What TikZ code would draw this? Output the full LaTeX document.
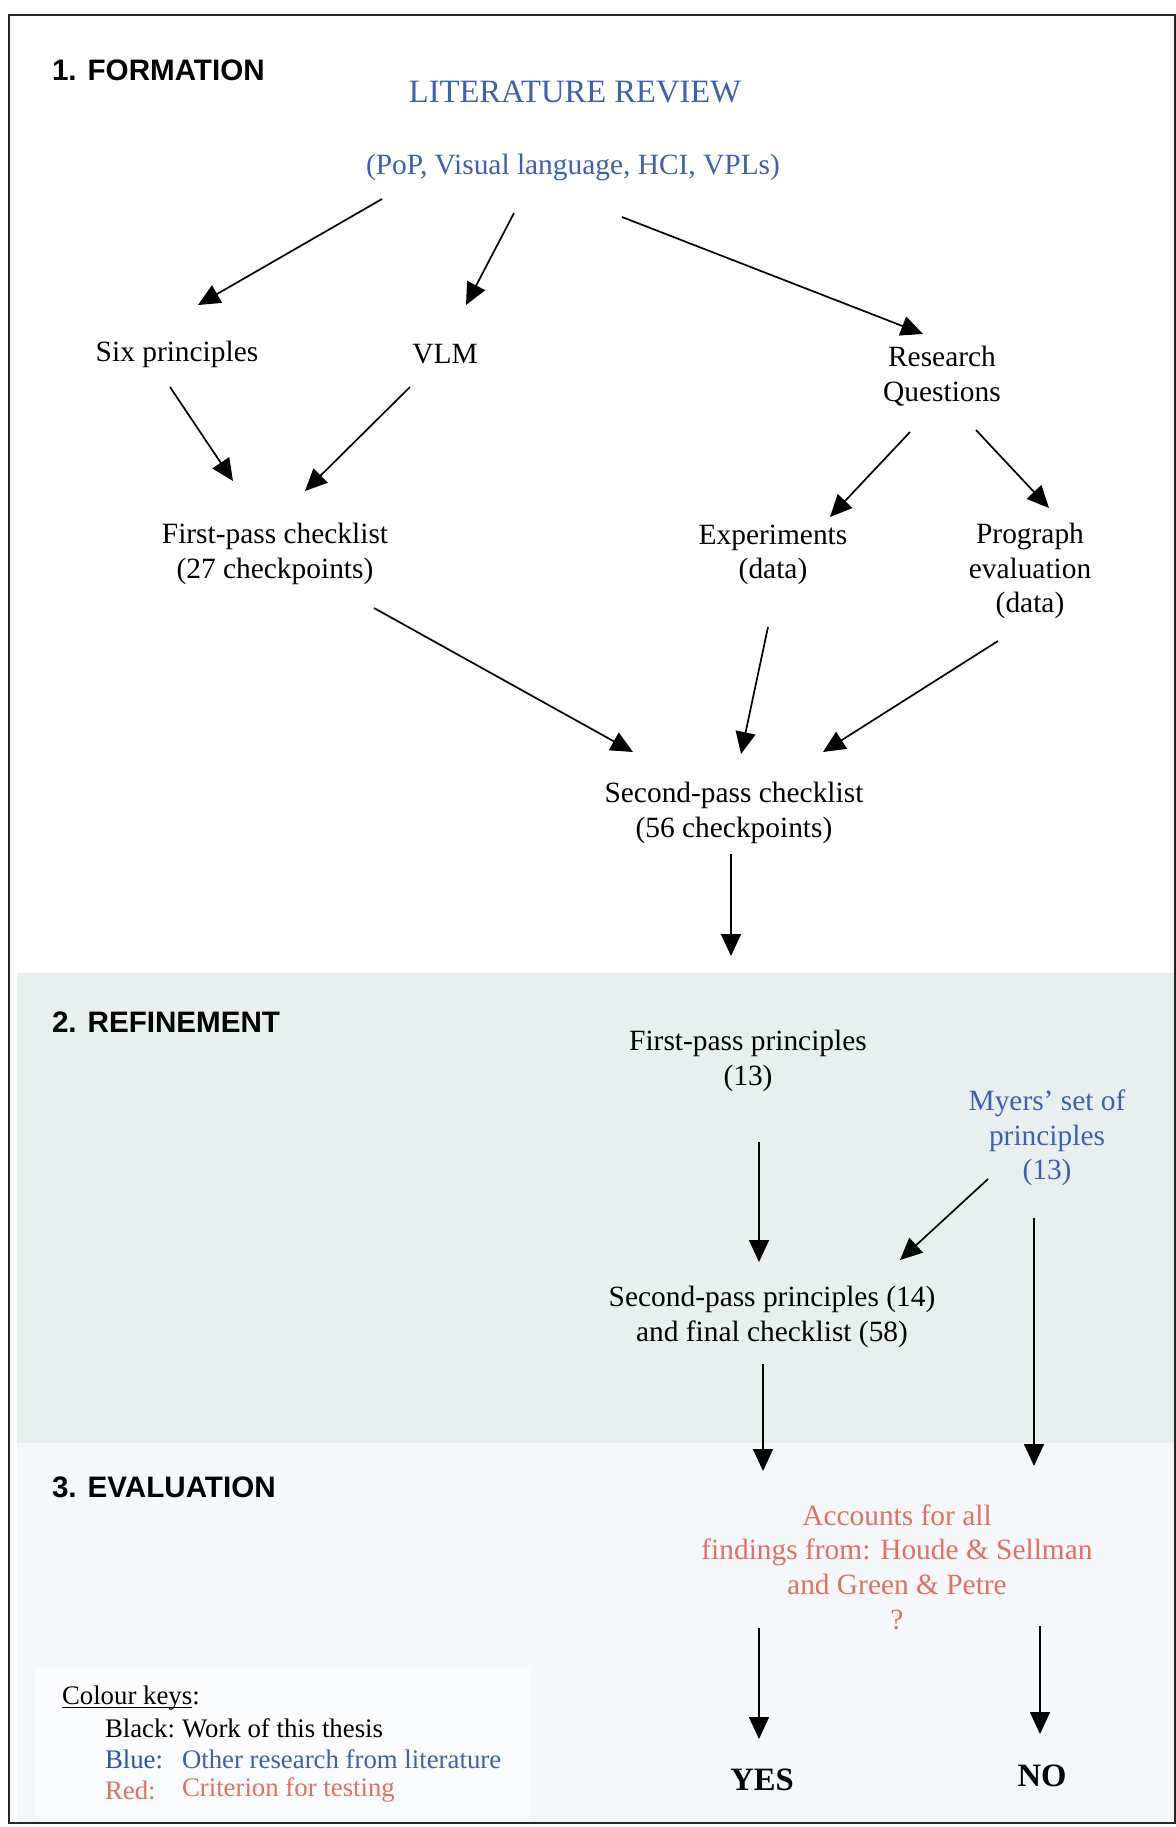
\documentclass[tikz,border=0pt]{standalone}
\usepackage{fontspec}
\setmainfont{Liberation Serif}
\newfontfamily\headfont{Liberation Sans}
\usetikzlibrary{arrows.meta,calc}
\definecolor{litblue}{RGB}{62,96,176}
\definecolor{keyblue}{RGB}{40,80,190}
\definecolor{critred}{RGB}{226,112,96}
\definecolor{refineband}{RGB}{232,239,239}
\definecolor{evalband}{RGB}{244,248,250}
\definecolor{keybox}{RGB}{250,252,253}
% underline that sits just under the baseline
\newcommand{\lowrule}[1]{{\setbox0\hbox{#1}\rlap{\rule[-2pt]{\wd0}{0.6pt}}\box0}}
\begin{document}
\begin{tikzpicture}[x=0.5pt,y=-0.5pt,
  every node/.style={inner sep=0pt, outer sep=0pt},
  txt/.style={font=\fontsize{14.7}{17.3}\selectfont, align=center},
  lit/.style={txt, text=litblue},
  crit/.style={txt, text=critred},
  phase/.style={anchor=west, font=\headfont\bfseries\fontsize{14.8}{17}\selectfont},
  answer/.style={font=\bfseries\fontsize{16.3}{18}\selectfont},
  keytxt/.style={anchor=west, font=\fontsize{13.4}{15}\selectfont},
  arr/.style={line width=0.85pt, -{Triangle[length=11pt,width=10pt]}}
]
% page, phase bands and frame
\useasboundingbox (0,0) rectangle (1176,1827);
\fill[white] (0,0) rectangle (1176,1827);
\fill[refineband] (17,973) rectangle (1176,1443);
\fill[evalband] (17,1443) rectangle (1176,1823);
\fill[keybox] (35,1668) rectangle (530,1820);
\draw[line width=0.8pt, black!85] (9,15) rectangle (1175,1823);

% phase headings
\node[phase] (h1) at (52,70) {1. FORMATION};
\node[phase] (h2) at (52,1022) {2. REFINEMENT};
\node[phase] (h3) at (52,1487) {3. EVALUATION};

% 1. formation
\node[lit, font=\fontsize{16.3}{19}\selectfont] (litrev) at (575,92) {LITERATURE REVIEW};
\node[lit] (litsub) at (573,167) {(PoP, Visual language, HCI, VPLs)};
\node[txt] (six) at (177,354) {Six principles};
\node[txt] (vlm) at (445,354) {VLM};
\node[txt] (rq) at (942,376) {Research\\Questions};
\node[txt] (fpc) at (275,554) {First-pass checklist\\(27 checkpoints)};
\node[txt] (exp) at (773,555) {Experiments\\(data)};
\node[txt] (prog) at (1030,571) {Prograph\\evaluation\\(data)};
\node[txt] (spc) at (734,813) {Second-pass checklist\\(56 checkpoints)};
\coordinate (torefine) at (731,956);

% 2. refinement
\node[txt] (fpp) at (748,1061) {First-pass principles\\(13)};
\node[lit] (myers) at (1047,1138) {Myers’ set of\\principles\\(13)};
\node[txt] (spp) at (772,1317) {Second-pass principles (14)\\and final checklist (58)};

% 3. evaluation
\node[crit] (acc) at (897,1567) {Accounts for all\\findings from: Houde \& Sellman\\and Green \& Petre\\?};
\node[answer] (yes) at (762,1780) {YES};
\node[answer] (no) at (1042,1776) {NO};

% colour key
\node[keytxt] (keyhead) at (62,1698) {\lowrule{Colour keys}:};
\node[keytxt] (kblack) at (105,1728) {Black:};
\node[keytxt] (kblackt) at (182,1728) {Work of this thesis};
\node[keytxt, text=keyblue] (kblue) at (105,1759) {Blue:};
\node[keytxt, text=litblue] (kbluet) at (182,1759) {Other research from literature};
\node[keytxt, text=critred] (kred) at (105,1790) {Red:};
\node[keytxt, text=critred] (kredt) at (182,1790) {Criterion for testing};

% connectors
\draw[arr] ($(litsub)+(-191,32)$) -- ($(six)+(21,-49)$);
\draw[arr] ($(litsub)+(-59,46)$) -- ($(vlm)+(21,-49)$);
\draw[arr] ($(litsub)+(49,50)$) -- ($(rq)+(-19,-42)$);
\draw[arr] ($(six)+(-7,33)$) -- ($(fpc)+(-42,-73)$);
\draw[arr] ($(vlm)+(-35,33)$) -- ($(fpc)+(30,-63)$);
\draw[arr] ($(rq)+(-32,56)$) -- ($(exp)+(57,-38)$);
\draw[arr] ($(rq)+(34,54)$) -- ($(prog)+(19,-63)$);
\draw[arr] ($(fpc)+(99,54)$) -- ($(spc)+(-101,-61)$);
\draw[arr] ($(exp)+(-5,72)$) -- ($(spc)+(7,-59)$);
\draw[arr] ($(prog)+(-32,70)$) -- ($(spc)+(89,-61)$);
\draw[arr] ($(spc)+(-3,41)$) -- (torefine);
\draw[arr] ($(fpp)+(11,81)$) -- ($(spp)+(-13,-55)$);
\draw[arr] ($(myers)+(-59,41)$) -- ($(spp)+(128,-57)$);
\draw[arr] ($(myers)+(-13,80)$) -- ($(acc)+(137,-101)$);
\draw[arr] ($(spp)+(-9,47)$) -- ($(acc)+(-134,-96)$);
\draw[arr] ($(acc)+(-138,61)$) -- ($(yes)+(-3,-41)$);
\draw[arr] ($(acc)+(143,59)$) -- ($(no)+(-2,-42)$);
\end{tikzpicture}
\end{document}
